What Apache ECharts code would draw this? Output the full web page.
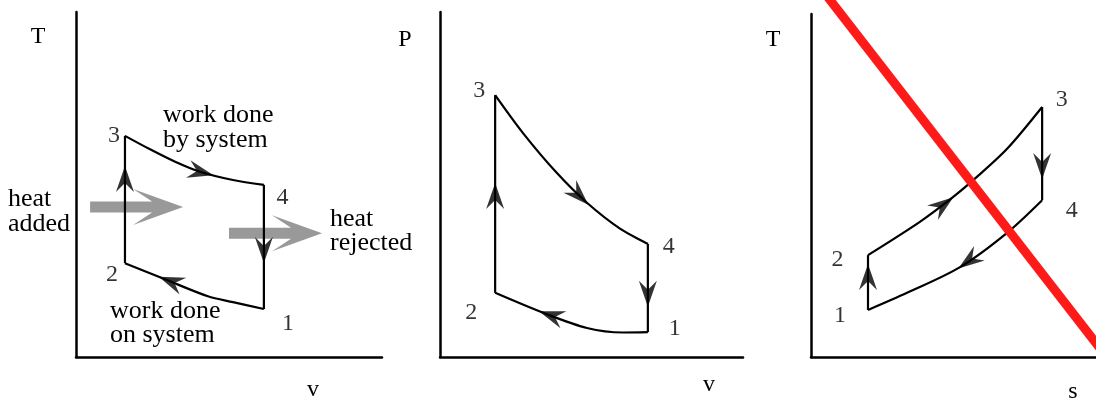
<!DOCTYPE html>
<html><head><meta charset="utf-8">
<script src="https://cdn.jsdelivr.net/npm/echarts@6/dist/echarts.min.js"></script>
<style>html,body{margin:0;padding:0;background:#fff}#c{width:1096px;height:403px}</style>
</head><body><div id="c"></div>
<script>
// ---------------- data (arbitrary units, every axis runs 0..10) ----------------
// Panel 1: T-v diagram of the Otto cycle
const tvLeg12 = [[6.14,1.39],[5.13,1.59],[4.31,1.76],[2.97,2.23],[1.60,2.72]];
const tvLeg23 = [[1.60,2.72],[1.60,6.41]];
const tvLeg34 = [[1.60,6.41],[2.42,6.02],[3.24,5.66],[4.05,5.37],[5.13,5.13],[6.14,4.99]];
const tvLeg41 = [[6.14,4.99],[6.14,1.39]];
const tvArrows = [[1.60,5.16],[4.08,5.36],[6.14,3.10],[3.10,2.19]];
const tvHeatArrows = [[1.98,4.35],[6.52,3.59]];

// Panel 2: P-v diagram
const pvLeg12 = [[6.86,0.72],[6.04,0.71],[4.85,0.84],[3.41,1.28],[1.82,1.86]];
const pvLeg23 = [[1.82,1.86],[1.82,7.59]];
const pvLeg34 = [[1.82,7.59],[2.74,6.49],[3.86,5.33],[4.85,4.47],[5.94,3.72],[6.86,3.28]];
const pvLeg41 = [[6.86,3.28],[6.86,0.72]];
const pvArrows = [[1.82,4.67],[4.59,4.68],[6.86,1.83],[3.67,1.20]];

// Panel 3: T-s diagram
const tsLeg12 = [[2.00,1.37],[2.00,2.97]];
const tsLeg23 = [[2.00,2.97],[3.82,3.94],[4.98,4.66],[5.82,5.25],[6.88,6.07],[8.11,7.29]];
const tsLeg34 = [[8.11,7.29],[8.11,4.57]];
const tsLeg41 = [[8.11,4.57],[6.88,3.62],[5.23,2.62],[3.37,1.87],[2.00,1.37]];
const tsArrows = [[2.00,2.33],[4.63,4.43],[8.11,5.57],[5.54,2.80]];
const tsStrike = [[0.20,10.91],[10.5,-0.13]];

const stateNames = ['1','2','3','4'];
const axisNames = [['v','T'],['v','P'],['s','T']];
const notes = ['heat\nadded','work done\nby system','work done\non system','heat\nrejected'];

// ---------------- styles / layout ----------------
const FONT = 'Liberation Serif';
const FS = 24;      // letters and digits
const FSW = 26;     // annotation words
const ARROW = 'path://M9,0 L18,26 L9,17 L0,26 Z';
const BLOCK = 'path://M0,12.5 L62,12.5 L43,0 L93,18 L43,36 L62,23.5 L0,23.5 Z';
const grids = [
  {left:76, top:12, width:306, height:345},
  {left:440, top:12, width:303, height:345},
  {left:811, top:14, width:285, height:343}
];
const labelOffsets = [
  [[24,14.5],[-13,12],[-11,-0.5],[18.5,12.5]],
  [[27,-3.5],[-24,19.5],[-16,-4],[21,2.5]],
  [[-28,6],[-30.5,5],[19.5,-7],[29.5,10]]
];
const panels = [
  {legs:[tvLeg12,tvLeg23,tvLeg34,tvLeg41], arrows:tvArrows},
  {legs:[pvLeg12,pvLeg23,pvLeg34,pvLeg41], arrows:pvArrows},
  {legs:[tsLeg12,tsLeg23,tsLeg34,tsLeg41], arrows:tsArrows}
];

const axisCommon = {type:'value', min:0, max:10, axisLine:{show:true, onZero:false, lineStyle:{color:'#000', width:2.5}},
  axisTick:{show:false}, axisLabel:{show:false}, splitLine:{show:false}};

const series = [];
panels.forEach((p,g)=>{
  p.legs.forEach(leg=>{
    series.push({type:'line', xAxisIndex:g, yAxisIndex:g, data:leg, smooth: leg.length>2 ? 0.3 : false,
      showSymbol:false, silent:true, lineStyle:{color:'#000', width:2.2}, z:3});
  });
  series.push({type:'scatter', id:'arrows'+g, xAxisIndex:g, yAxisIndex:g, symbol:ARROW, symbolSize:[18,26],
    data:p.arrows.map(a=>({value:a})), itemStyle:{color:'#000'}, silent:true, z:4});
  series.push({type:'scatter', xAxisIndex:g, yAxisIndex:g, symbolSize:1, silent:true, z:4,
    itemStyle:{color:'rgba(0,0,0,0)'},
    data:p.legs.map((leg,k)=>({name:stateNames[k], value:leg[0],
      label:{show:true, position:'inside', formatter:'{b}', offset:labelOffsets[g][k],
        color:'#000', fontFamily:FONT, fontSize:FS}}))});
});
series.push({type:'scatter', xAxisIndex:0, yAxisIndex:0, symbol:BLOCK, symbolSize:[93,36],
  data:tvHeatArrows, itemStyle:{color:'#808080'}, silent:true, z:2});
series.push({type:'line', xAxisIndex:2, yAxisIndex:2, data:tsStrike, clip:false, showSymbol:false, silent:true,
  lineStyle:{color:'#ff1a1a', width:9}, z:10});

function txt(x, y, s, align, vAlign, fs, lh){
  return {type:'text', x:x, y:y, silent:true, z:20,
    style:{text:s, fill:'#000', fontFamily:FONT, fontSize:fs, align:align, verticalAlign:vAlign, lineHeight:lh||fs}};
}
const B = 0.3375*FS;  // baseline-to-middle distance (letters)
const BW = 0.3375*FSW; // words
const graphic = [
  txt(38, 45-B, axisNames[0][1], 'center','middle', FS),
  txt(313, 398-B, axisNames[0][0], 'center','middle', FS),
  txt(405, 48-B, axisNames[1][1], 'center','middle', FS),
  txt(709, 393-B, axisNames[1][0], 'center','middle', FS),
  txt(773, 48-B, axisNames[2][1], 'center','middle', FS),
  txt(1073, 400-B, axisNames[2][0], 'center','middle', FS),
  txt(8, 208-BW-12.5, notes[0], 'left','top', FSW, 25),
  txt(163, 124-BW-12.5, notes[1], 'left','top', FSW, 25),
  txt(110, 320-BW-12, notes[2], 'left','top', FSW, 24),
  txt(330, 228-BW-12, notes[3], 'left','top', FSW, 24)
];

const chart = echarts.init(document.getElementById('c'), null, {renderer:'canvas'});
chart.setOption({
  animation:false,
  backgroundColor:'#fff',
  grid:grids.map(g=>Object.assign({containLabel:false}, g)),
  xAxis:grids.map((_,i)=>Object.assign({gridIndex:i}, axisCommon)),
  yAxis:grids.map((_,i)=>Object.assign({gridIndex:i}, axisCommon)),
  series:series,
  graphic:graphic
});

// orient arrowheads along the cycle direction (legs are stored in cycle order)
panels.forEach((p,g)=>{
  const px = pt => chart.convertToPixel({gridIndex:g}, pt);
  const segs = [];
  p.legs.forEach(leg=>{ for(let i=0;i<leg.length-1;i++) segs.push([px(leg[i]), px(leg[i+1])]); });
  const data = p.arrows.map(a=>{
    const q = px(a); let best=null, bd=Infinity;
    segs.forEach(s=>{
      const vx=s[1][0]-s[0][0], vy=s[1][1]-s[0][1];
      const L=vx*vx+vy*vy; let t=L? ((q[0]-s[0][0])*vx+(q[1]-s[0][1])*vy)/L : 0;
      t=Math.max(0,Math.min(1,t));
      const dx=s[0][0]+t*vx-q[0], dy=s[0][1]+t*vy-q[1]; const d=dx*dx+dy*dy;
      if(d<bd){bd=d; best=[vx,vy];}
    });
    return {value:a, symbolRotate: Math.atan2(-best[0], -best[1])*180/Math.PI};
  });
  chart.setOption({series:[{id:'arrows'+g, data:data}]});
});
</script></body></html>
